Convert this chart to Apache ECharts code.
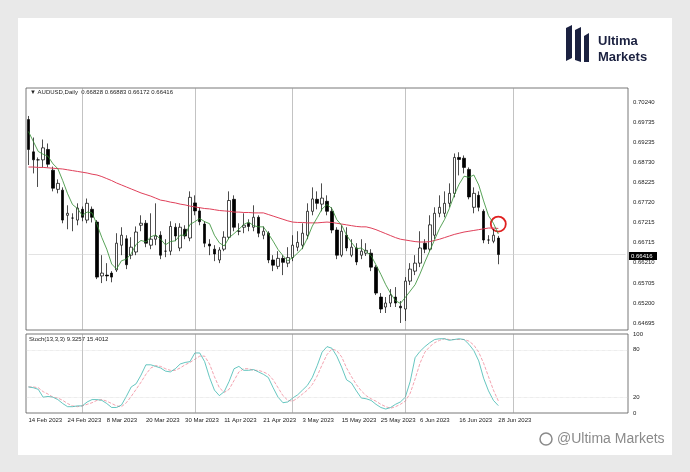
<!DOCTYPE html>
<html><head><meta charset="utf-8">
<script src="https://cdn.jsdelivr.net/npm/echarts@6/dist/echarts.min.js"></script>
<style>html,body{margin:0;padding:0;background:#e9e9e9}#c{width:690px;height:472px}</style>
</head><body><div id="c"></div>
<script>
const dates = ['14 Feb','15 Feb','16 Feb','17 Feb','20 Feb','21 Feb','22 Feb','23 Feb','24 Feb','27 Feb','28 Feb',
'1 Mar','2 Mar','3 Mar','6 Mar','7 Mar','8 Mar','9 Mar','10 Mar','13 Mar','14 Mar','15 Mar','16 Mar','17 Mar','20 Mar','21 Mar','22 Mar','23 Mar','24 Mar','27 Mar','28 Mar','29 Mar','30 Mar','31 Mar',
'3 Apr','4 Apr','5 Apr','6 Apr','7 Apr','10 Apr','11 Apr','12 Apr','13 Apr','14 Apr','17 Apr','18 Apr','19 Apr','20 Apr','21 Apr','24 Apr','25 Apr','26 Apr','27 Apr','28 Apr',
'1 May','2 May','3 May','4 May','5 May','8 May','9 May','10 May','11 May','12 May','15 May','16 May','17 May','18 May','19 May','22 May','23 May','24 May','25 May','26 May','29 May','30 May','31 May',
'1 Jun','2 Jun','5 Jun','6 Jun','7 Jun','8 Jun','9 Jun','12 Jun','13 Jun','14 Jun','15 Jun','16 Jun','19 Jun','20 Jun','21 Jun','22 Jun','23 Jun','26 Jun','27 Jun','28 Jun'];
// [open, close, low, high]
const ohlc = [
[.6980,.6905,.6866,.6989],[.6899,.6879,.6845,.6935],[.6879,.6879,.6811,.6885],[.6879,.6909,.6860,.6930],[.6905,.6868,.6860,.6920],
[.6853,.6808,.6800,.6862],[.6805,.6820,.6795,.6830],[.6803,.6728,.6720,.6810],[.6740,.6745,.6705,.6765],[.6733,.6733,.6700,.6745],
[.6728,.6758,.6715,.6770],[.6755,.6735,.6725,.6762],[.6728,.6770,.6720,.6782],[.6755,.6735,.6722,.6762],[.6723,.6585,.6580,.6728],
[.6588,.6595,.6570,.6640],[.6590,.6588,.6575,.6620],[.6595,.6585,.6572,.6600],[.6603,.6670,.6598,.6695],[.6665,.6690,.6640,.6710],
[.6681,.6616,.6605,.6690],[.6640,.6660,.6630,.6685],[.6648,.6698,.6640,.6712],[.6715,.6720,.6700,.6740],[.6720,.6670,.6660,.6728],
[.6665,.6680,.6655,.6745],[.6680,.6688,.6665,.6770],[.6690,.6640,.6630,.6700],[.6650,.6650,.6635,.6680],[.6650,.6712,.6640,.6725],
[.6710,.6688,.6675,.6720],[.6658,.6710,.6650,.6720],[.6705,.6688,.6680,.6715],[.6683,.6785,.6675,.6800],[.6771,.6751,.6740,.6790],
[.6751,.6724,.6715,.6760],[.6718,.6670,.6660,.6725],[.6668,.6663,.6640,.6680],[.6655,.6643,.6625,.6665],[.6628,.6653,.6620,.6660],
[.6655,.6685,.6650,.6700],[.6685,.6777,.6680,.6800],[.6780,.6710,.6700,.6790],[.6700,.6700,.6690,.6720],[.6710,.6715,.6695,.6745],
[.6720,.6712,.6700,.6730],[.6710,.6735,.6700,.6765],[.6735,.6695,.6685,.6740],[.6690,.6700,.6680,.6712],[.6695,.6628,.6620,.6700],
[.6628,.6615,.6600,.6640],[.6612,.6632,.6605,.6650],[.6632,.6622,.6590,.6640],[.6620,.6634,.6610,.6660],[.6634,.6665,.6625,.6690],
[.6660,.6672,.6650,.6700],[.6665,.6695,.6655,.6720],[.6690,.6750,.6680,.6770],[.6750,.6781,.6740,.6810],[.6780,.6770,.6755,.6800],
[.6768,.6783,.6750,.6820],[.6775,.6750,.6740,.6790],[.6750,.6703,.6695,.6760],[.6703,.6640,.6630,.6710],[.6640,.6700,.6635,.6715],
[.6690,.6658,.6650,.6710],[.6640,.6660,.6635,.6680],[.6658,.6623,.6615,.6670],[.6640,.6650,.6630,.6680],[.6645,.6652,.6638,.6670],
[.6645,.6610,.6600,.6655],[.6610,.6545,.6540,.6615],[.6535,.6505,.6495,.6545],[.6510,.6520,.6495,.6535],[.6520,.6540,.6510,.6555],
[.6535,.6520,.6510,.6560],[.6512,.6508,.6470,.6525],[.6505,.6575,.6475,.6585],[.6575,.6605,.6565,.6620],[.6600,.6620,.6590,.6640],
[.6620,.6658,.6610,.6700],[.6670,.6655,.6645,.6680],[.6655,.6716,.6650,.6740],[.6690,.6745,.6680,.6760],[.6745,.6760,.6735,.6790],
[.6745,.6770,.6735,.6800],[.6770,.6795,.6760,.6820],[.6795,.6885,.6785,.6895],[.6885,.6880,.6840,.6898],[.6883,.6860,.6845,.6890],
[.6855,.6786,.6780,.6860],[.6760,.6795,.6745,.6810],[.6790,.6760,.6750,.6800],[.6750,.6678,.6670,.6755],[.6678,.6678,.6668,.6690],
[.6675,.6690,.6670,.6705],[.66828,.66416,.66172,.66883]];
const maFast = [.6950,.6925,.6900,.6893,.6888,.6869,.6857,.6827,.6794,.6767,.6757,.6740,.6748,.6746,.6717,.6684,.6655,.6618,.6605,.6626,
.6630,.6644,.6667,.6677,.6673,.6686,.6691,.6680,.6666,.6674,.6676,.6690,.6690,.6717,.6724,.6732,.6724,.6719,.6690,.6671,
.6663,.6684,.6694,.6705,.6717,.6723,.6714,.6711,.6711,.6694,.6675,.6654,.6639,.6626,.6634,.6645,.6658,.6683,.6713,.6734,
.6756,.6767,.6757,.6729,.6715,.6690,.6672,.6656,.6658,.6649,.6639,.6616,.6592,.6566,.6544,.6526,.6519,.6534,.6550,.6566,
.6593,.6623,.6651,.6679,.6707,.6729,.6757,.6791,.6818,.6838,.6835,.6841,.6816,.6776,.6739,.6720,.6693];
const maSlow = [.6861,.6861,.6860,.6860,.6859,.6858,.6857,.6856,.6854,.6852,.6850,.6848,.6846,.6843,.6841,.6837,.6832,.6827,.6821,.6816,
.6811,.6806,.6801,.6796,.6792,.6788,.6783,.6778,.6776,.6773,.6771,.6768,.6766,.6763,.6761,.6759,.6757,.6756,.6754,.6752,
.6751,.6750,.6748,.6748,.6747,.6747,.6746,.6746,.6746,.6742,.6738,.6734,.6730,.6726,.6723,.6722,.6722,.6721,.6721,.6721,
.6722,.6723,.6722,.6720,.6718,.6716,.6714,.6712,.6711,.6711,.6708,.6704,.6699,.6694,.6689,.6684,.6680,.6678,.6676,.6674,
.6673,.6673,.6674,.6677,.6680,.6684,.6688,.6692,.6695,.6698,.6700,.6702,.6704,.6706,.6708,.6708,.6707];
const stochK = [33,32,30,20,21,20,17,12,8,8,9,9,14,17,17,16,12,7,7,10,21,33,37,48,61,61,59,57,53,52,56,62,64,65,76,76,65,45,29,22,
27,40,56,59,54,54,55,52,49,45,32,20,13,14,19,23,29,35,45,60,77,84,82,72,58,42,38,28,19,18,16,11,7,5,7,11,14,20,40,70,
78,84,89,93,94,94,92,93,94,93,87,79,66,44,28,16,9.3257];
const stochD = [33,33,32,27,24,20,19,16,12,9,8,9,11,13,16,17,15,12,9,8,13,21,30,39,49,57,60,59,56,54,54,57,61,64,68,72,72,62,46,32,
26,30,41,52,56,56,54,54,52,49,42,32,22,16,15,19,24,29,36,47,61,74,81,79,71,57,46,36,28,22,18,15,11,8,6,8,11,15,25,43,
63,77,84,89,92,94,93,93,93,93,91,86,77,63,46,29,15.4012];
const priceTicks = [0.70240,0.69735,0.69235,0.68730,0.68225,0.67720,0.67215,0.66715,0.66210,0.65705,0.65200,0.64695];
const stochTicks = [0,20,80,100];
const monthStarts = [11,34,54,77,99];
const lastPrice = 0.66416;

const TOTAL = 123;
const cats = dates.slice();
for (let k = dates.length; k < TOTAL; k++) cats.push('p' + k);
const fs = 'Liberation Sans, Arial, sans-serif';
const vl = monthStarts.map(m => ({xAxis: m, lineStyle:{color:'#9a9a9a', type:'solid', width:0.6}}));

const chart = echarts.init(document.getElementById('c'));
chart.setOption({
  animation:false,
  backgroundColor:'#e9e9e9',
  graphic:[
    {type:'rect', z:-10, shape:{x:18,y:18,width:654,height:437}, style:{fill:'#ffffff'}},
    {type:'polygon', shape:{points:[[566,28],[572,25],[572,58],[566,61]]}, style:{fill:'#1b2140'}},
    {type:'polygon', shape:{points:[[575,30],[581,27],[581,62],[575,60]]}, style:{fill:'#1b2140'}},
    {type:'polygon', shape:{points:[[584,36],[589,33],[589,62],[584,62]]}, style:{fill:'#1b2140'}},
    {type:'text', left:598, top:33, style:{text:'Ultima\nMarkets', fill:'#1b2140', font:'bold 13px '+fs, lineHeight:16}},
    {type:'text', left:30, top:89, style:{text:'▼ AUDUSD,Daily  0.66828 0.66883 0.66172 0.66416', fill:'#222', font:'6px '+fs}},
    {type:'text', left:29, top:336, style:{text:'Stoch(13,3,3) 9.3257 15.4012', fill:'#222', font:'6px '+fs}},
    {type:'text', left:556, top:431, style:{text:'@Ultima Markets', fill:'#8a8a8a', font:'14px '+fs, stroke:'#fff', lineWidth:2}},
    {type:'circle', shape:{cx:546,cy:439,r:6}, style:{fill:'none', stroke:'#8a8a8a', lineWidth:1.5}},
    {type:'rect', z:50, shape:{x:629,y:252,width:28,height:8}, style:{fill:'#000'}},
    {type:'text', z:51, left:631, top:253, style:{text:'0.66416', fill:'#fff', font:'6px '+fs}}
  ],
  grid:[
    {left:26, right:62, top:88, height:242, show:true, borderColor:'#555', borderWidth:0.8, backgroundColor:'#fff'},
    {left:26, right:62, top:334, height:79, show:true, borderColor:'#555', borderWidth:0.8, backgroundColor:'#fff'}
  ],
  xAxis:[
    {type:'category', gridIndex:0, data:cats, boundaryGap:true, axisLine:{show:false}, axisTick:{show:false}, axisLabel:{show:false}, splitLine:{show:false}, axisPointer:{show:false}},
    {type:'category', gridIndex:1, data:cats, boundaryGap:true, axisLine:{show:false}, axisTick:{show:false}, splitLine:{show:false},
     axisLabel:{interval:(i)=> i%8===0 && i<dates.length, align:'left', fontSize:6, color:'#222', fontFamily:fs, margin:4,
       formatter:(v)=> v.charAt(0)==='p' ? '' : v+' 2023'}}
  ],
  yAxis:[
    {type:'value', gridIndex:0, position:'right', min:0.64524, max:0.70591, scale:true, splitLine:{show:false},
     axisLine:{show:false}, axisTick:{show:false},
     axisLabel:{customValues:priceTicks, formatter:v=>v.toFixed(5), fontSize:6, color:'#222', fontFamily:fs, margin:5}},
    {type:'value', gridIndex:1, position:'right', min:0, max:100, splitLine:{show:false},
     axisLine:{show:false}, axisTick:{show:false},
     axisLabel:{customValues:stochTicks, fontSize:6, color:'#222', fontFamily:fs, margin:5}}
  ],
  series:[
    {type:'candlestick', xAxisIndex:0, yAxisIndex:0, data:ohlc, barWidth:3, z:5,
     itemStyle:{color:'#ffffff', color0:'#000000', borderColor:'#000000', borderColor0:'#000000', borderWidth:0.7},
     markLine:{silent:true, symbol:'none', label:{show:false}, data:vl}},
    {type:'line', xAxisIndex:0, yAxisIndex:0, data:maSlow, symbol:'none', lineStyle:{color:'#e0405a', width:1}, z:6,
     markLine:{silent:true, symbol:'none', label:{show:false}, data:[[{coord:[0,lastPrice]},{coord:[TOTAL-1,lastPrice]}]],
       lineStyle:{color:'#d0d0d0', type:'solid', width:0.6}}},
    {type:'line', xAxisIndex:0, yAxisIndex:0, data:maFast, symbol:'none', lineStyle:{color:'#2e8b2e', width:0.8}, z:7,
     markPoint:{silent:true, symbol:'circle', symbolSize:15, itemStyle:{color:'rgba(0,0,0,0)', borderColor:'#e02020', borderWidth:1.8}, label:{show:false},
       data:[{coord:[96,0.6718]}]}},
    {type:'line', xAxisIndex:1, yAxisIndex:1, data:stochD, symbol:'none', lineStyle:{color:'#f08a9a', width:0.8, type:'dashed'},
     markLine:{silent:true, symbol:'none', label:{show:false}, data:[...vl,
       {yAxis:80, lineStyle:{color:'#ccc', type:'dotted', width:0.6}},
       {yAxis:20, lineStyle:{color:'#ccc', type:'dotted', width:0.6}}]}},
    {type:'line', xAxisIndex:1, yAxisIndex:1, data:stochK, symbol:'none', lineStyle:{color:'#3fb8b0', width:0.8}}
  ]
});
</script></body></html>
